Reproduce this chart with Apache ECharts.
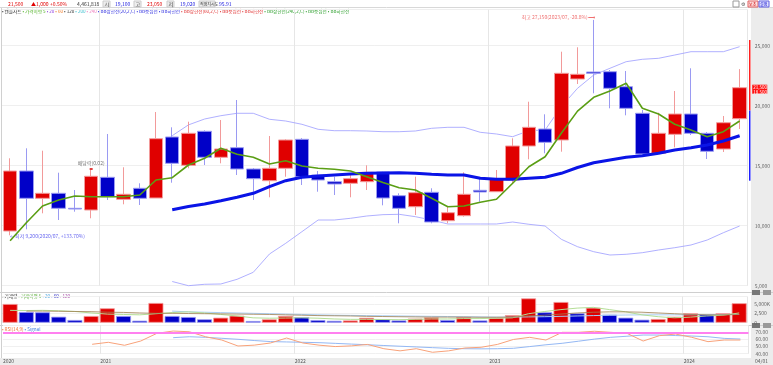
<!DOCTYPE html>
<html><head><meta charset="utf-8">
<script src="https://cdn.jsdelivr.net/npm/echarts@6/dist/echarts.min.js"></script>
<style>html,body{margin:0;padding:0;background:#fff}#c{width:773px;height:365px}</style>
</head><body><div id="c"></div>
<script>
const months = ['2020/07','2020/08','2020/09','2020/10','2020/11','2020/12',
'2021/01','2021/02','2021/03','2021/04','2021/05','2021/06','2021/07','2021/08','2021/09','2021/10','2021/11','2021/12',
'2022/01','2022/02','2022/03','2022/04','2022/05','2022/06','2022/07','2022/08','2022/09','2022/10','2022/11','2022/12',
'2023/01','2023/02','2023/03','2023/04','2023/05','2023/06','2023/07','2023/08','2023/09','2023/10','2023/11','2023/12',
'2024/01','2024/02','2024/03','2024/04'];
const openP  = [9558,14558,12283,12700,11450,11308,14033,12200,13117,12308,17392,15033,17867,15700,16500,14725,13750,14783,17200,14225,13667,13533,13667,14475,12500,11583,12783,10417,10833,12950,12833,13808,16642,18058,17142,22225,22808,22833,21583,19367,16033,17617,19308,17700,16392,18917];
const closeP = [14558,12283,12700,11450,11390,14117,12417,12617,12283,17250,15200,17700,15700,16392,14725,13917,14783,17142,14083,13808,13475,13917,14450,12308,11450,12750,10308,11083,12617,12808,13867,16642,18200,16950,22700,22617,22700,21450,19783,15975,17700,19308,17700,16200,18583,21500];
const lowP   = [9200,9700,11033,10475,11167,10617,12142,11783,11725,12308,13583,14783,15058,15200,14225,12142,12367,14083,13392,12833,12558,12367,12975,11700,10200,10892,10200,10200,10750,12000,12833,13533,15533,16033,16167,21808,21033,19783,19200,15975,15975,16533,17558,15558,16142,18058];
const highP  = [15617,16450,16250,14417,12975,14642,17642,14867,13533,19475,18200,18667,17950,18808,20475,14800,17475,17200,17300,14558,14083,14308,15033,14500,12700,14083,13117,11583,14450,13950,14642,17283,20333,19283,24500,24867,27150,22975,22892,19642,19417,21225,23117,17800,19142,23050];
const ma5    = [8750,10250,11642,12142,12475,12417,12417,12417,12558,13808,14000,15058,15617,16450,15950,15700,15142,15417,14975,14783,14700,14558,14083,13600,13167,12975,12283,11583,11642,11950,12200,13533,14917,15750,17700,19550,20700,21225,21867,19783,19308,18450,17975,17417,17833,18725];
const ma20   = [null,null,null,null,null,null,null,null,null,null,11333,11600,11808,12083,12367,12700,13250,13750,14033,14142,14225,14308,14367,14400,14417,14367,14283,14225,14225,13950,13867,13867,13950,14033,14367,14850,15250,15475,15700,15833,16033,16308,16500,16725,17058,17500];
const bbUpper= [null,null,null,null,null,null,null,null,null,null,17500,18400,18892,19167,19367,19367,18867,18725,18450,18033,17917,17917,17892,17833,17833,17892,18117,18200,18200,17783,17642,17417,17917,17975,19917,21450,22558,23117,23667,23867,23950,24225,24500,24500,24500,24917];
const bbLower= [null,null,null,null,null,null,null,null,null,null,5350,5000,5117,5142,5533,6117,7642,8533,9500,10475,10475,10617,10808,10920,10950,10750,10475,10142,10142,10142,10142,10308,10117,9975,8867,8250,7833,7558,7617,7750,7975,8167,8392,8808,9417,9975];
const priceTicks = [5000,10000,15000,20000,25000];
const rangeBar = [25475, 19600, 13750];   // current-price range marker (top, split, bottom)
const volume = [5000,2860,2780,1600,720,1790,3850,1790,540,5270,1790,1520,900,1340,1870,450,900,1800,1500,700,500,600,1300,900,600,1100,1400,700,1500,600,1300,2000,6500,2780,5530,2500,4000,2140,1340,800,990,1600,2500,2250,2500,5200];
const volMa5  = [3300,3250,3300,3200,3000,2600,2300,2200,2100,2400,2700,2900,2600,2200,1800,1300,1200,1250,1300,1200,1000,900,900,850,800,900,1000,1000,1100,1100,1200,1300,2400,3000,3500,3900,4100,3500,2900,2100,1600,1300,1500,1800,2000,2600];
const volMa20 = [null,3100,3100,3050,3000,2950,2800,2750,2600,2500,2500,2450,2400,2350,2300,2250,2200,2100,2000,1900,1850,1800,1700,1650,1600,1550,1500,1500,1500,1450,1450,1500,1800,2000,2300,2600,2800,2900,2900,2800,2600,2400,2200,2100,2100,2200];
const volMa60 = [null,null,null,null,null,null,null,null,null,null,3100,2900,2800,2700,2600,2500,2400,2300,2200,2100,2000,1950,1900,1850,1800,1750,1700,1650,1600,1550,1500,1500,1550,1600,1700,1800,1900,2000,2050,2100,2100,2100,2100,2150,2150,2200];
const rsi    = [null,null,null,null,null,53.2,56.0,51.8,57.8,68.6,71.8,70.8,63.8,59.2,50.8,52.0,55.0,62.0,55.0,52.0,50.0,51.0,53.0,47.0,44.0,47.0,42.0,44.0,48.0,49.0,53.0,60.0,63.0,59.2,70.0,70.0,71.5,70.0,68.6,57.8,65.3,67.6,63.0,56.9,59.2,59.2];
const signal = [null,null,null,null,null,null,null,null,null,null,62.5,63.8,63.0,61.6,60.2,58.5,57.0,56.5,56.0,55.5,54.5,53.5,52.5,51.5,50.5,49.5,48.5,47.5,47.0,46.8,47.0,47.6,50.0,52.5,54.6,57.5,60.5,63.0,64.5,66.2,66.2,65.5,64.8,63.8,61.5,60.6];
const rsiBase = 70;

const fmt = v => v.toLocaleString('en-US');
const UP = '#e00000', DOWN = '#0000c8';
const FONT = 'Noto Sans CJK KR';

const chart = echarts.init(document.getElementById('c'), null, {renderer:'canvas'});
const N = months.length;
const iMax = highP.indexOf(Math.max(...highP));
const iMin = lowP.indexOf(Math.min(...lowP));
const last = closeP[N-1];
const pctHi = ((last/highP[iMax]-1)*100).toFixed(1);
const pctLo = ((last/lowP[iMin]-1)*100).toFixed(2);

const isJan = v => v.endsWith('/01');
const vSplit = {show:true, interval:(i,v)=>isJan(v), lineStyle:{color:'#e6e6e6', width:1}};
const catAxis = (grid) => ({type:'category', gridIndex:grid, data:months, boundaryGap:true,
  axisLine:{show:false}, axisTick:{show:false}, axisLabel:{show:false}, splitLine:vSplit});

const lbl = {color:'#666', fontSize:5, fontFamily:FONT};

function txt(x, y, s, color, fs) {
  return {type:'text', x, y, style:{text:s, fill:color, fontSize:fs||5, fontFamily:FONT, textVerticalAlign:'middle'}};
}
function legendRow(x, y, items, fs) {
  const rich = {}; let s = '';
  items.forEach((it, k) => { rich['r'+k] = {fill:it[1], fontSize:fs, fontFamily:FONT}; s += `{r${k}|• ${it[0]}}` + (k<items.length-1 ? ' ' : ''); });
  return {type:'text', x, y, style:{text:s, rich, fontSize:fs, fontFamily:FONT, textVerticalAlign:'middle'}};
}
const mainLegend = [['캔들차트','#222'],['가격이평 5','#4caf20'],['20','#9040e0'],['60','#f08030'],['120','#333'],['200','#40c0d0'],['240','#f080c0'],
  ['BB상한선(20,2,C)','#3030e0'],['BB중심선','#3030e0'],['BB하한선','#3030e0'],
  ['BB상한선(60,2,C)','#e03030'],['BB중심선','#e03030'],['BB하한선','#e03030'],
  ['BB상한선(240,2,C)','#30a030'],['BB중심선','#30a030'],['BB하한선','#30a030']];
const volLegend = [['거래량','#222'],['거래이평 5','#60b040'],['20','#40a0e0'],['60','#2020c0'],['120','#a040a0']];
const rsiLegend = [['RSI(14,9)','#f07030'],['Signal','#4080e0']];

const graphics = [
  {type:'rect', shape:{x:751, y:8, width:22, height:357}, style:{fill:'#ececec'}, z:-10},
  {type:'rect', shape:{x:0, y:358, width:773, height:7}, style:{fill:'#ececec'}, z:-10},
  {type:'line', shape:{x1:0, y1:7.5, x2:773, y2:7.5}, style:{stroke:'#d8d8d8', lineWidth:1}},
  {type:'line', shape:{x1:0, y1:292.5, x2:773, y2:292.5}, style:{stroke:'#cfcfcf', lineWidth:1}},
  {type:'line', shape:{x1:0, y1:325.5, x2:773, y2:325.5}, style:{stroke:'#cfcfcf', lineWidth:1}},
  {type:'line', shape:{x1:1.5, y1:8, x2:1.5, y2:358}, style:{stroke:'#d0d0d0', lineWidth:1}},
  txt(8,4,'21,500','#e00000'), txt(31,4,'▲1,000','#e00000'), txt(50,4,'+0.50%','#e00000'),
  txt(77,4,'4,461,818','#333'),
  {type:'rect', shape:{x:103,y:1,width:7,height:6}, style:{fill:'#eee', stroke:'#ccc'}}, txt(104.5,4,'시','#333'), txt(115,4,'19,100','#2020e0'),
  {type:'rect', shape:{x:134,y:1,width:7,height:6}, style:{fill:'#eee', stroke:'#ccc'}}, txt(135.5,4,'고','#333'), txt(147,4,'23,050','#e00000'),
  {type:'rect', shape:{x:167,y:1,width:7,height:6}, style:{fill:'#eee', stroke:'#ccc'}}, txt(168.5,4,'저','#333'), txt(180,4,'19,020','#2020e0'),
  {type:'rect', shape:{x:199,y:1,width:16,height:6}, style:{fill:'#eee', stroke:'#ccc'}}, txt(200,4,'적정지시도','#333',4), txt(219,4,'95.91','#2020e0'),
  {type:'rect', shape:{x:733,y:1,width:6,height:6}, style:{fill:'#fff', stroke:'#999'}},
  txt(741,4,'⚙','#555'),
  {type:'rect', shape:{x:748,y:1,width:10,height:6}, style:{fill:'#fde0e0', stroke:'#e06060'}}, txt(749,4,'보조','#c00',4),
  {type:'rect', shape:{x:759,y:1,width:10,height:6}, style:{fill:'#e0e0fd', stroke:'#6060e0'}}, txt(760,4,'설정','#00c',4),
  legendRow(2, 11, mainLegend, 4.6),
  legendRow(2, 296, volLegend, 4.6),
  legendRow(2, 329, rsiLegend, 4.6),
  {type:'rect', shape:{x:752,y:290,width:8,height:5}, style:{fill:'#777'}}, {type:'rect', shape:{x:763,y:290,width:8,height:5}, style:{fill:'#999'}},
  {type:'rect', shape:{x:752,y:323,width:8,height:5}, style:{fill:'#777'}}, {type:'rect', shape:{x:763,y:323,width:8,height:5}, style:{fill:'#999'}},
  txt(755,361,'04/01','#555')
];

const option = {
  animation:false,
  backgroundColor:'#fff',
  textStyle:{fontFamily:FONT},
  grid:[
    {left:2, right:24.5, top:9.7, bottom:79.3},
    {left:2, right:24.5, top:296.5, bottom:42.3},
    {left:2, right:24.5, top:325.2, bottom:11.3}
  ],
  xAxis:[
    catAxis(0), catAxis(1), catAxis(2),
    {type:'category', gridIndex:2, data:months.concat(['']), boundaryGap:false, position:'bottom',
     axisLine:{show:false}, axisTick:{show:false}, splitLine:{show:false},
     axisLabel:{show:true, interval:(i,v)=> i===0 || isJan(v), formatter:(v)=>v.slice(0,4), align:'left',
       color:'#555', fontSize:5, margin:5, fontFamily:FONT}}
  ],
  yAxis:[
    {type:'value', gridIndex:0, position:'right', min:priceTicks[0], max:28000, interval:5000,
     axisLine:{show:false}, axisTick:{show:false},
     axisLabel:Object.assign({margin:7, showMaxLabel:false, formatter:v=>fmt(v)}, lbl),
     splitLine:{show:true, lineStyle:{color:'#efefef'}}},
    {type:'value', gridIndex:1, position:'right', min:0, max:7000, interval:2500,
     axisLine:{show:false}, axisTick:{show:false},
     axisLabel:Object.assign({margin:7, showMaxLabel:false, formatter:v=> v===5000 ? '5,000K' : fmt(v)}, lbl),
     splitLine:{show:true, lineStyle:{color:'#f0f0f0'}}},
    {type:'value', gridIndex:2, position:'right', min:40, max:80, interval:10,
     axisLine:{show:false}, axisTick:{show:false},
     axisLabel:Object.assign({margin:7, showMaxLabel:false, formatter:v=>v.toFixed(2)}, lbl),
     splitLine:{show:true, lineStyle:{color:'#f0f0f0'}}}
  ],
  series:[
    {type:'line', xAxisIndex:0, yAxisIndex:0, data:bbUpper, symbol:'none', clip:false,
     lineStyle:{color:'#9c9cff', width:0.8}, z:2},
    {type:'line', xAxisIndex:0, yAxisIndex:0, data:bbLower, symbol:'none', clip:false,
     lineStyle:{color:'#9c9cff', width:0.8}, z:2},
    {type:'candlestick', xAxisIndex:0, yAxisIndex:0, barWidth:14,
     data: months.map((m,i)=>[openP[i], closeP[i], lowP[i], highP[i]]),
     itemStyle:{color:UP, color0:DOWN, borderColor:'#f29a9a', borderColor0:'#9a9af2', borderWidth:1},
     z:3,
     markPoint:{symbol:'circle', symbolSize:0, animation:false, data:[
       {coord:[iMax, highP[iMax]], label:{show:true, position:'left', distance:0, offset:[1,-3],
         formatter:`최고 ${fmt(highP[iMax])}(${months[iMax]}, ${pctHi}%)⟶`, color:'#f07070', fontSize:5, fontFamily:FONT}},
       {coord:[iMin, lowP[iMin]], label:{show:true, position:'right', distance:0, offset:[0,1],
         formatter:`←최저 ${fmt(lowP[iMin])}(${months[iMin]}, +${pctLo}%)`, color:'#6a6af0', fontSize:5, fontFamily:FONT}},
       {coord:[5, highP[5]], symbol:'rect', symbolSize:[3,2], symbolOffset:[0,-1], itemStyle:{color:'#e04040'},
         label:{show:true, position:'top', distance:2, formatter:'배당락(0.02)', color:'#777', fontSize:5, fontFamily:FONT}}
     ]}},
    {type:'line', xAxisIndex:0, yAxisIndex:0, data:ma20, symbol:'none',
     lineStyle:{color:'#0a14e6', width:3}, z:4},
    {type:'line', xAxisIndex:0, yAxisIndex:0, data:ma5, symbol:'none',
     lineStyle:{color:'#5a9e14', width:1.6}, z:5},
    {type:'custom', xAxisIndex:0, yAxisIndex:0, clip:false, z:6,
     data:[[N-1, rangeBar[0], rangeBar[1], rangeBar[2], last]],
     renderItem:(params, api)=>{
       const cs = params.coordSys;
       const x = cs.x + cs.width + 2;
       const t = api.coord([api.value(0), api.value(1)])[1];
       const m = api.coord([api.value(0), api.value(2)])[1];
       const b = api.coord([api.value(0), api.value(3)])[1];
       const p = api.coord([api.value(0), api.value(4)])[1];
       return {type:'group', children:[
         {type:'line', shape:{x1:x, y1:t, x2:x, y2:m}, style:{stroke:'#ff2020', lineWidth:1.5}},
         {type:'line', shape:{x1:x, y1:m, x2:x, y2:b}, style:{stroke:'#2020ff', lineWidth:1.5}},
         {type:'rect', shape:{x:x+2.5, y:p-3, width:15, height:9}, style:{fill:'#ff1010'}},
         {type:'text', x:x+3.5, y:p-2.5, style:{text:fmt(api.value(4))+'\n18,500', fill:'#fff', fontSize:4.5, lineHeight:4.5, fontFamily:FONT}}
       ]};
     }},
    {type:'bar', xAxisIndex:1, yAxisIndex:1, barWidth:15,
     data: volume.map((v,i)=>({value:v, itemStyle:{color: (i===0 || v>=volume[i-1]) ? UP : DOWN,
        borderColor:(i===0 || v>=volume[i-1]) ? '#f29a9a' : '#9a9af2', borderWidth:0.8}}))},
    {type:'line', xAxisIndex:1, yAxisIndex:1, data:volMa60, symbol:'none', lineStyle:{color:'#a8cdf2', width:1}},
    {type:'line', xAxisIndex:1, yAxisIndex:1, data:volMa5, symbol:'none', lineStyle:{color:'#b4de96', width:1}},
    {type:'line', xAxisIndex:1, yAxisIndex:1, data:volMa20, symbol:'none', lineStyle:{color:'#a08050', width:0.8}},
    {type:'line', xAxisIndex:2, yAxisIndex:2, data:signal, symbol:'none', lineStyle:{color:'#94b8f4', width:1}},
    {type:'line', xAxisIndex:2, yAxisIndex:2, data:rsi, symbol:'none', lineStyle:{color:'#f8a27a', width:1},
     markLine:{symbol:'none', silent:true, label:{show:false}, lineStyle:{color:'#ff80f0', width:2, type:'solid'},
       data:[{yAxis:rsiBase}]}}
  ],
  graphic: graphics
};
chart.setOption(option);
</script></body></html>
